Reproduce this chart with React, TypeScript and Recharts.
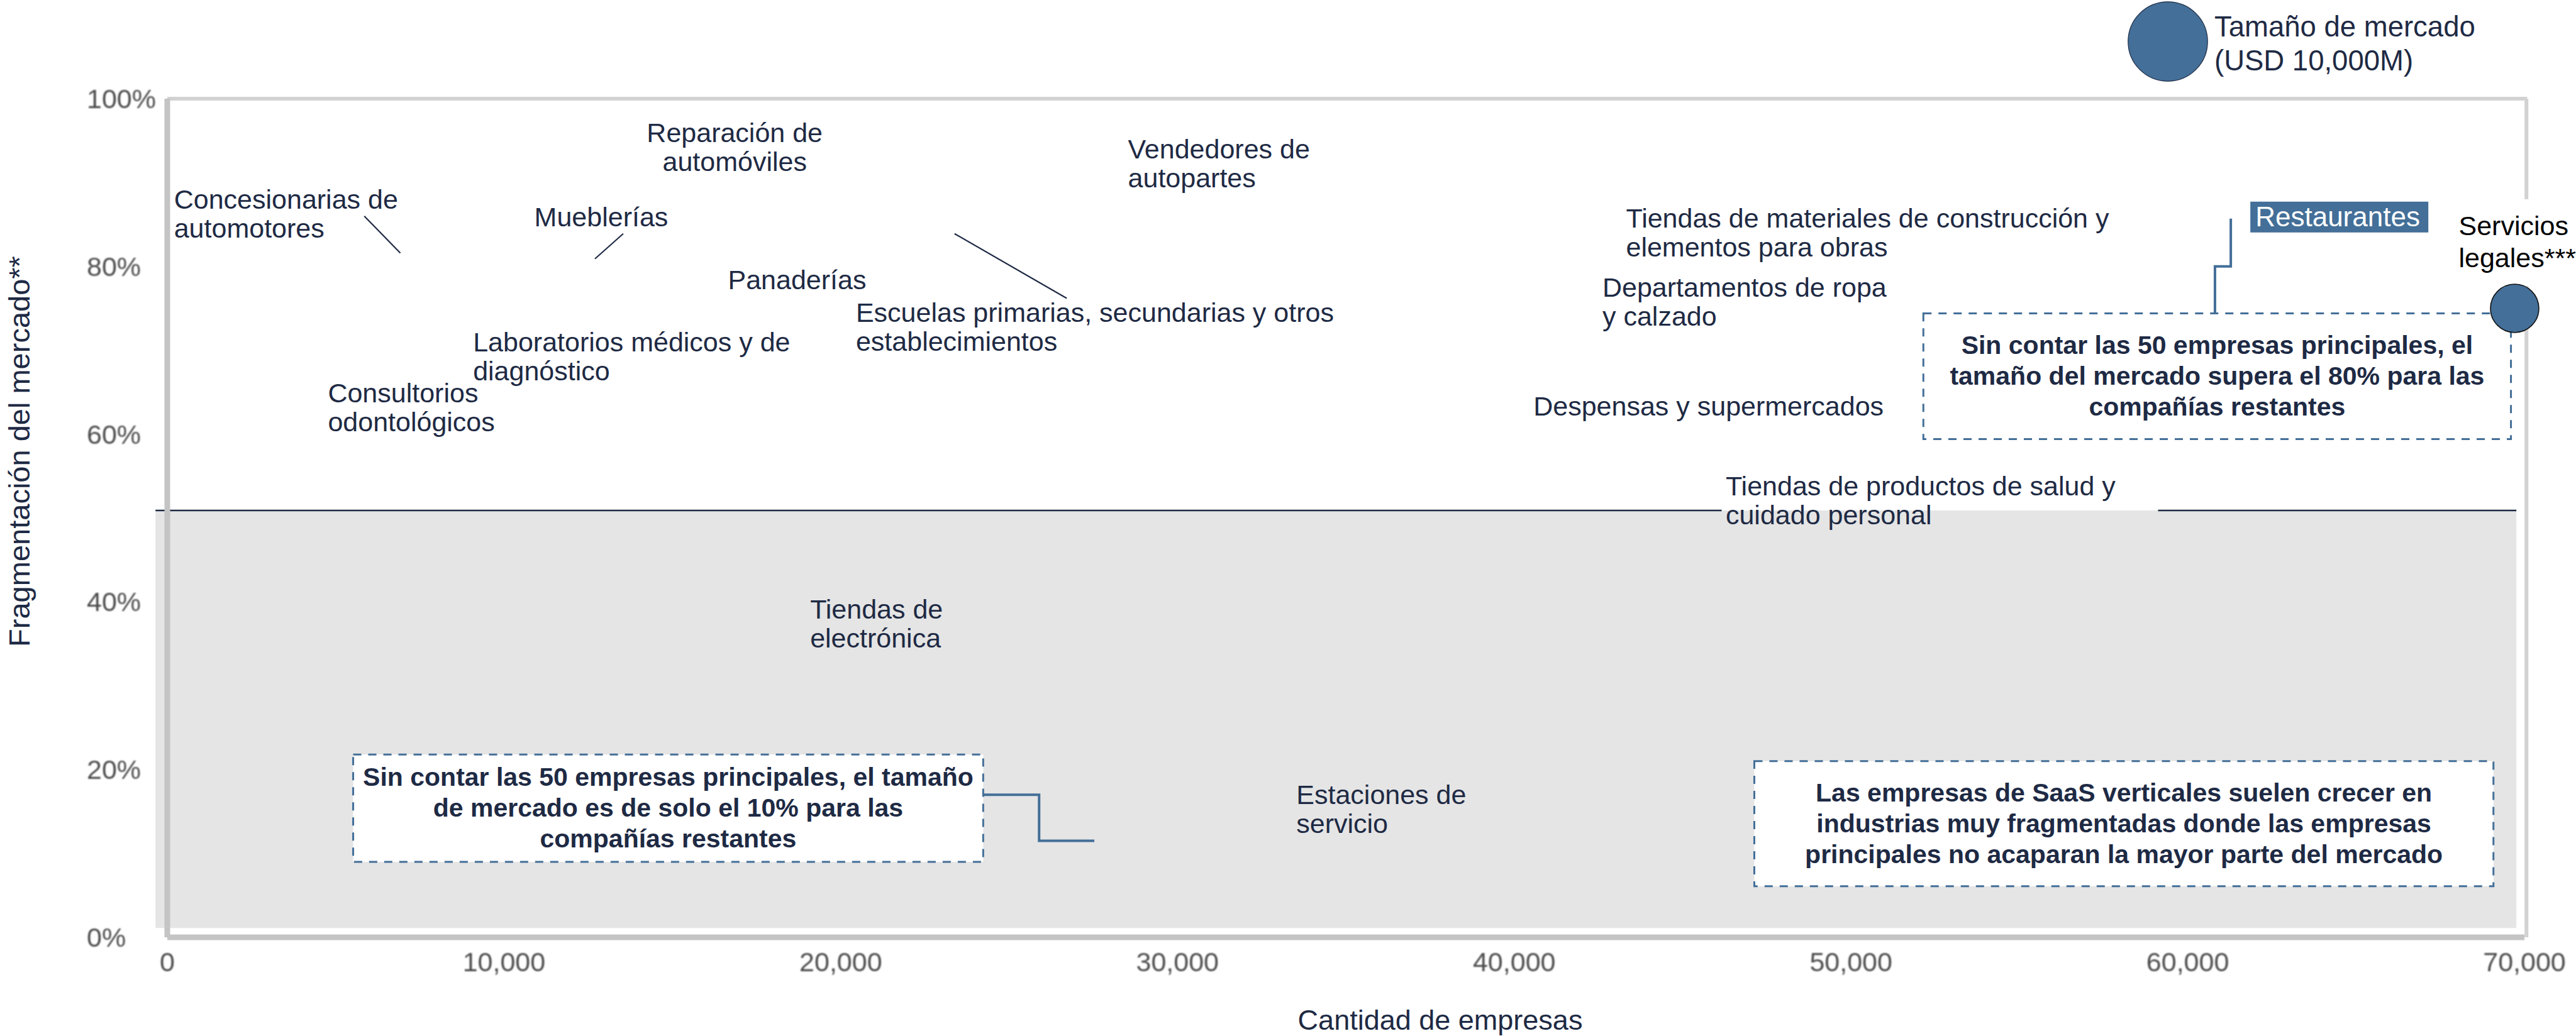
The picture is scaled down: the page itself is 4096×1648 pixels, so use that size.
import React from "react";
import {
  ScatterChart,
  Scatter,
  XAxis,
  YAxis,
  ReferenceArea,
  ReferenceLine,
  Legend,
} from "recharts";

const FONT = "'Liberation Sans', Arial, Helvetica, sans-serif";
const NAVY = "#1e2a44";
const BLUE = "#436f98";
const GRID = "#c4c4c4";

// industry labels: x = number of companies, y = market fragmentation (%)
const categories = [
  "Concesionarias de\nautomotores",
  "Reparación de\nautomóviles",
  "Mueblerías",
  "Panaderías",
  "Laboratorios médicos y de\ndiagnóstico",
  "Consultorios\nodontológicos",
  "Vendedores de\nautopartes",
  "Escuelas primarias, secundarias y otros\nestablecimientos",
  "Tiendas de materiales de construcción y\nelementos para obras",
  "Departamentos de ropa\ny calzado",
  "Despensas y supermercados",
  "Tiendas de productos de salud y\ncuidado personal",
  "Tiendas de\nelectrónica",
  "Estaciones de\nservicio",
];
const companies = [200, 16850, 10900, 16650, 9080, 4770, 28530, 20450, 43320, 42620, 40570, 46280, 19090, 33530];
const fragmentation = [86.9, 94.8, 84.8, 77.3, 69.9, 63.8, 92.9, 73.4, 84.6, 76.4, 62.2, 52.7, 38.0, 15.9];
const centeredLabels = ["Reparación de\nautomóviles"];

// highlighted label and the one visible bubble
const highlight = [{ name: "Restaurantes", x: 62010, y: 84.8 }];
const bubbles = [{ name: "Servicios\nlegales***", x: 69710, y: 75.0, size: 3700 }];
const legendSize = 10000; // USD M
const MAX_R = 63.2;

// leader lines pointing to labels
const leaders = [
  [{ x: 5850, y: 86.0 }, { x: 6920, y: 81.6 }],
  [{ x: 13540, y: 83.9 }, { x: 12700, y: 80.9 }],
  [{ x: 23380, y: 83.9 }, { x: 26710, y: 76.2 }],
];

// callout connectors (step lines)
const restaurantConnector = [
  { x: 61280, y: 85.7 },
  { x: 61280, y: 80.0 },
  { x: 60810, y: 80.0 },
  { x: 60810, y: 74.3 },
];
const lowConnector = [
  { x: 24230, y: 17.0 },
  { x: 25890, y: 17.0 },
  { x: 25890, y: 11.5 },
  { x: 27530, y: 11.5 },
];

// callout boxes
const boxes = [
  {
    x1: 5520, x2: 24230, y1: 9.0, y2: 21.8,
    lines: [
      "Sin contar las 50 empresas principales, el tamaño",
      "de mercado es de solo el 10% para las",
      "compañías restantes",
    ],
  },
  {
    x1: 52150, x2: 69600, y1: 59.4, y2: 74.4,
    lines: [
      "Sin contar las 50 empresas principales, el",
      "tamaño del mercado supera el 80% para las",
      "compañías restantes",
    ],
  },
  {
    x1: 47130, x2: 69080, y1: 6.1, y2: 21.0,
    lines: [
      "Las empresas de SaaS verticales suelen crecer en",
      "industrias muy fragmentadas donde las empresas",
      "principales no acaparan la mayor parte del mercado",
    ],
  },
];

const xTicks = [0, 10000, 20000, 30000, 40000, 50000, 60000, 70000];
const yTicks = [0, 20, 40, 60, 80, 100];
const threshold = 50.9;
const zoneBottom = 1.1;

const labelData = categories.map((name, i) => ({
  name,
  x: companies[i],
  y: fragmentation[i],
}));

const IndustryLabel = (props: any) => {
  const { cx, cy, payload } = props;
  const lines = payload.name.split("\n");
  const anchor = centeredLabels.includes(payload.name) ? "middle" : "start";
  return (
    <text x={cx} y={cy} textAnchor={anchor} fontFamily={FONT} fontSize={43} fill={NAVY}>
      {lines.map((l: string, i: number) => (
        <tspan key={i} x={cx} dy={i === 0 ? 0 : 46}>
          {l}
        </tspan>
      ))}
    </text>
  );
};

const HighlightLabel = (props: any) => {
  const { cx, cy, payload } = props;
  return (
    <g>
      <rect x={cx - 8} y={cy - 39} width={283} height={49} fill={BLUE} />
      <text x={cx} y={cy} fontFamily={FONT} fontSize={44} fill="#fff">
        {payload.name}
      </text>
    </g>
  );
};

const Bubble = (props: any) => {
  const { cx, cy, payload } = props;
  const r = MAX_R * Math.sqrt(payload.size / legendSize);
  const lines = payload.name.split("\n");
  return (
    <g>
      <rect x={cx - 96} y={cy - 173} width={200} height={137} fill="#fff" />
      <text x={cx - 89} y={cy - 117} fontFamily={FONT} fontSize={43} fill="#000">
        {lines.map((l: string, i: number) => (
          <tspan key={i} x={cx - 89} dy={i === 0 ? 0 : 51}>
            {l}
          </tspan>
        ))}
      </text>
      <circle cx={cx} cy={cy} r={r} fill={BLUE} stroke="#111" strokeWidth={1.6} />
    </g>
  );
};

const boxLabel = (lines: string[]) => (props: any) => {
  const { x, y, width, height } = props.viewBox;
  const cx = x + width / 2;
  const first = y + height / 2 + 13.7 - 49 * ((lines.length - 1) / 2);
  return (
    <text
      x={cx}
      y={first}
      textAnchor="middle"
      fontFamily={FONT}
      fontWeight="bold"
      fontSize={41}
      fill={NAVY}
    >
      {lines.map((l, i) => (
        <tspan key={i} x={cx} dy={i === 0 ? 0 : 49}>
          {l}
        </tspan>
      ))}
    </text>
  );
};

const XTick = (props: any) => {
  const { x, y, payload } = props;
  return (
    <text
      x={x}
      y={y + 54}
      textAnchor="middle"
      fontFamily={FONT}
      fontSize={43}
      fill="#4d4d4d"
      style={{ filter: "blur(0.9px)" }}
    >
      {Number(payload.value).toLocaleString("en-US")}
    </text>
  );
};

const YTick = (props: any) => {
  const { x, y, payload } = props;
  return (
    <text
      x={x - 128}
      y={y + 15}
      textAnchor="start"
      fontFamily={FONT}
      fontSize={43}
      fill="#4d4d4d"
      style={{ filter: "blur(0.9px)" }}
    >
      {payload.value}%
    </text>
  );
};

const YTitle = (props: any) => {
  const { x, y, height } = props.viewBox;
  const tx = x - 76;
  const ty = y + height / 2 - 106;
  return (
    <text
      x={tx}
      y={ty}
      transform={`rotate(-90, ${tx}, ${ty})`}
      textAnchor="middle"
      dominantBaseline="central"
      fontFamily={FONT}
      fontSize={47}
      fill={NAVY}
    >
      Fragmentación del mercado**
    </text>
  );
};

const XTitle = (props: any) => {
  const { x, y, width } = props.viewBox;
  return (
    <text
      x={x + width / 2 + 150}
      y={y + 147}
      textAnchor="middle"
      fontFamily={FONT}
      fontSize={45}
      fill={NAVY}
    >
      Cantidad de empresas
    </text>
  );
};

const SizeLegend = () => (
  <svg width={620} height={150}>
    <circle cx={77} cy={66} r={MAX_R} fill={BLUE} stroke={NAVY} strokeWidth={1.2} />
    <text x={151} y={58} fontFamily={FONT} fontSize={45.5} fill={NAVY}>
      Tamaño de mercado
    </text>
    <text x={151} y={112} fontFamily={FONT} fontSize={45.5} fill={NAVY}>
      (USD 10,000M)
    </text>
  </svg>
);

const noDot = () => <g />;

export default function App() {
  return (
    <div style={{ position: "absolute", left: 0, top: 0, background: "#fff" }}>
      <ScatterChart
        width={4096}
        height={1648}
        margin={{ top: 157, right: 82, bottom: 77, left: 106 }}
        style={{ fontFamily: FONT }}
      >
        <ReferenceArea
          x1={-350}
          x2={69760}
          y1={zoneBottom}
          y2={threshold}
          fill="#e5e5e5"
          fillOpacity={1}
          stroke="none"
          ifOverflow="visible"
        />
        <XAxis
          type="number"
          dataKey="x"
          domain={[0, 70000]}
          ticks={xTicks}
          height={80}
          tickSize={0}
          tickMargin={0}
          tickLine={false}
          axisLine={{ stroke: GRID, strokeWidth: 9 }}
          tick={<XTick />}
          label={{ content: XTitle }}
        />
        <YAxis
          type="number"
          dataKey="y"
          domain={[0, 100]}
          ticks={yTicks}
          width={160}
          tickSize={0}
          tickMargin={0}
          tickLine={false}
          axisLine={{ stroke: GRID, strokeWidth: 9 }}
          tick={<YTick />}
          label={{ content: YTitle }}
        />
        <ReferenceLine
          segment={[{ x: -350, y: threshold }, { x: 46160, y: threshold }]}
          stroke={NAVY}
          strokeWidth={2.5}
          ifOverflow="visible"
        />
        <ReferenceLine
          segment={[{ x: 59120, y: threshold }, { x: 69760, y: threshold }]}
          stroke={NAVY}
          strokeWidth={2.5}
          ifOverflow="visible"
        />
        <ReferenceLine
          segment={[{ x: 0, y: 100 }, { x: 70080, y: 100 }]}
          stroke="#d2d2d2"
          strokeWidth={6}
          ifOverflow="visible"
        />
        <ReferenceLine
          segment={[{ x: 70060, y: 100 }, { x: 70060, y: 88.0 }]}
          stroke="#d2d2d2"
          strokeWidth={6}
          ifOverflow="visible"
        />
        <ReferenceLine
          segment={[{ x: 70060, y: 77.7 }, { x: 70060, y: 0 }]}
          stroke="#d2d2d2"
          strokeWidth={6}
          ifOverflow="visible"
        />
        {leaders.map((seg, i) => (
          <ReferenceLine
            key={`lead-${i}`}
            segment={seg}
            stroke={NAVY}
            strokeWidth={2.2}
            ifOverflow="visible"
          />
        ))}
        {boxes.map((b, i) => (
          <ReferenceArea
            key={`box-${i}`}
            x1={b.x1}
            x2={b.x2}
            y1={b.y1}
            y2={b.y2}
            fill="#fff"
            fillOpacity={1}
            stroke={BLUE}
            strokeWidth={3}
            strokeDasharray="13 11"
            ifOverflow="visible"
            label={{ content: boxLabel(b.lines) }}
          />
        ))}
        <Scatter
          data={restaurantConnector}
          shape={noDot}
          line={{ stroke: BLUE, strokeWidth: 4 }}
          isAnimationActive={false}
          legendType="none"
        />
        <Scatter
          data={lowConnector}
          shape={noDot}
          line={{ stroke: BLUE, strokeWidth: 4 }}
          isAnimationActive={false}
          legendType="none"
        />
        <Scatter data={labelData} shape={IndustryLabel} isAnimationActive={false} legendType="none" />
        <Scatter data={highlight} shape={HighlightLabel} isAnimationActive={false} legendType="none" />
        <Scatter data={bubbles} shape={Bubble} isAnimationActive={false} legendType="none" />
        <Legend
          layout="vertical"
          align="center"
          verticalAlign="middle"
          content={SizeLegend}
          wrapperStyle={{ left: 3370, top: 0, width: 620, height: 150 }}
        />
      </ScatterChart>
    </div>
  );
}
